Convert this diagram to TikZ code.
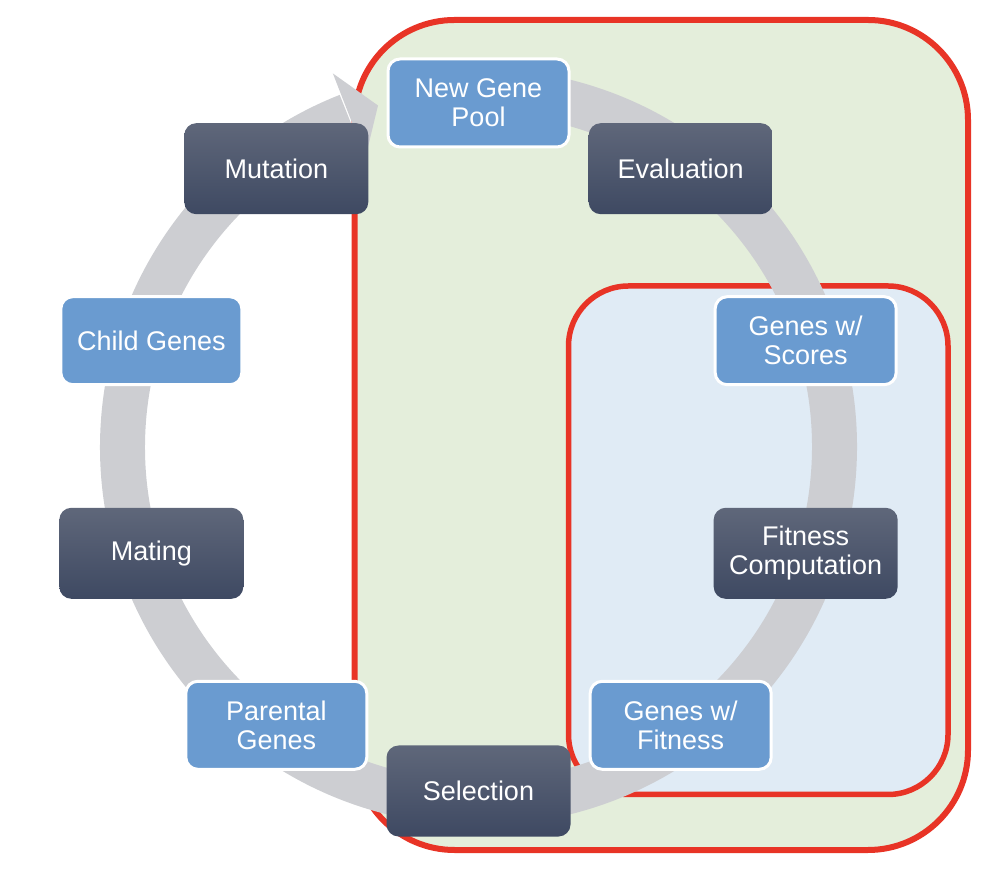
\documentclass[tikz,border=0pt]{standalone}
\usepackage{fontspec}
\setmainfont{Liberation Sans}
\definecolor{frameRed}{HTML}{E83426}
\definecolor{greenFill}{HTML}{E4EEDB}
\definecolor{blueFill}{HTML}{E0EBF5}
\definecolor{ringGray}{HTML}{CDCED2}
\definecolor{boxBlue}{HTML}{6A9BD0}
\definecolor{darkTop}{HTML}{5F677A}
\definecolor{darkBot}{HTML}{3E4962}
\begin{document}
\begin{tikzpicture}[x=1pt,y=1pt,
  lightbox/.style={rectangle, rounded corners=12pt, fill=boxBlue, draw=white, line width=3pt,
    minimum width=181pt, minimum height=88pt, align=center, text=white,
    font=\fontsize{27}{29}\selectfont, inner sep=0pt},
  darkbox/.style={rectangle, rounded corners=12pt, top color=darkTop, bottom color=darkBot,
    minimum width=184pt, minimum height=91pt, align=center, text=white,
    font=\fontsize{27}{29}\selectfont, inner sep=0pt},
  outerframe/.style={draw=frameRed, line width=6pt, fill=greenFill, rounded corners=100pt},
  innerframe/.style={draw=frameRed, line width=5.5pt, fill=blueFill, rounded corners=60pt},
  ringband/.style={draw=ringGray, line width=45pt}
]
\useasboundingbox (0,0) rectangle (984,872);
\coordinate (C) at (478.5,425);
% frames
\path[outerframe] (354.5,22) rectangle (968,852);
\path[innerframe] (568.5,77.5) rectangle (948,586);
% ring arrow
\draw[ringband] ([shift={(86:356)}]C) arc[start angle=86, end angle=-248.5, radius=356];
\fill[ringGray] ([shift={(111.3:401)}]C) -- ([shift={(106.4:356)}]C) -- ([shift={(111.3:311)}]C) -- cycle;
% boxes
\node[lightbox] (ngp) at ([shift={(90:344)}]C) {New Gene\\Pool};
\node[darkbox]  (eval) at ([shift={(54:344)}]C) {Evaluation};
\node[lightbox] (gws) at ([shift={(18:344)}]C) {Genes w/\\Scores};
\node[darkbox]  (fit) at ([shift={(-18:344)}]C) {Fitness\\Computation};
\node[lightbox] (gwf) at ([shift={(-54:344)}]C) {Genes w/\\Fitness};
\node[darkbox]  (sel) at ([shift={(-90:344)}]C) {Selection};
\node[lightbox] (pg) at ([shift={(-126:344)}]C) {Parental\\Genes};
\node[darkbox]  (mat) at ([shift={(-162:344)}]C) {Mating};
\node[lightbox] (cg) at ([shift={(162:344)}]C) {Child Genes};
\node[darkbox]  (mut) at ([shift={(126:344)}]C) {Mutation};
\end{tikzpicture}
\end{document}
